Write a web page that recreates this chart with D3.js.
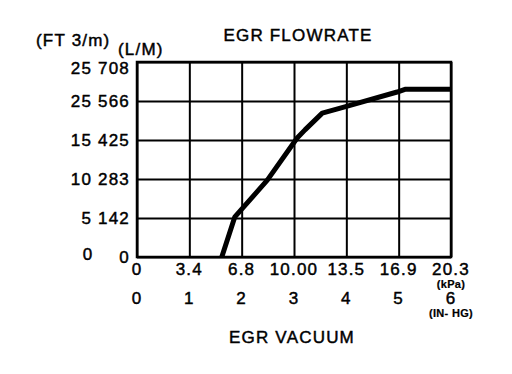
<!DOCTYPE html>
<html>
<head>
<meta charset="utf-8">
<script src="https://cdn.jsdelivr.net/npm/d3@7"></script>
<style>
  body { margin: 0; background: #fff; }
  text { font-family: "Liberation Sans", Arial, sans-serif; fill: #000; stroke: #000; stroke-width: 0.45px; }
  .lbl { font-size: 17px; letter-spacing: 1.2px; }
  .unit { font-size: 11px; font-weight: bold; letter-spacing: 0.3px; stroke-width: 0.2px; }
</style>
</head>
<body>
<script>
//chart values
var kpaTicks = ["0", "3.4", "6.8", "10.00", "13.5", "16.9", "20.3"];
var inhgTicks = ["0", "1", "2", "3", "4", "5", "6"];
var flowTicks = ["0", "5 142", "10 283", "15 425", "25 566", "25 708"];
var ftTicks = ["0"];
//curve in grid units: vacuum (in-Hg) and flow row index
var curveVacuum = [1.62, 1.87, 2.49, 3.06, 3.21, 3.54, 3.97, 4.97, 5.12, 6];
var curveFlow = [0, 1.03, 1.97, 3.05, 3.26, 3.69, 3.85, 4.23, 4.3, 4.3];

window.onload = drawChart();

function drawChart(){
    var width = 512,
        height = 374;

    var svg = d3.select("body")
        .append("svg")
        .attr("width", width)
        .attr("height", height);

    //plot frame
    var left = 137, right = 451, top = 62, bottom = 257;

    var x = d3.scaleLinear()
        .domain([0, inhgTicks.length - 1])
        .range([left, right]);

    var y = d3.scaleLinear()
        .domain([0, flowTicks.length - 1])
        .range([bottom, top]);

    //grid lines through the axes
    var xGrid = svg.append("g")
        .attr("transform", "translate(0," + bottom + ")")
        .call(d3.axisBottom(x)
            .tickValues(d3.range(inhgTicks.length))
            .tickSize(-(bottom - top))
            .tickFormat(""));

    var yGrid = svg.append("g")
        .attr("transform", "translate(" + left + ",0)")
        .call(d3.axisLeft(y)
            .tickValues(d3.range(flowTicks.length))
            .tickSize(-(right - left))
            .tickFormat(""));

    svg.selectAll(".domain").remove();
    svg.selectAll(".tick line")
        .attr("stroke", "#000")
        .attr("stroke-width", 2);

    //outer border
    svg.append("rect")
        .attr("x", left)
        .attr("y", top)
        .attr("width", right - left)
        .attr("height", bottom - top)
        .attr("fill", "none")
        .attr("stroke", "#000")
        .attr("stroke-width", 2.5);

    //flow curve
    var pts = curveVacuum.map(function(v, i){ return [v, curveFlow[i]]; });
    var line = d3.line()
        .x(function(d){ return x(d[0]); })
        .y(function(d){ return y(d[1]); });

    svg.append("path")
        .datum(pts)
        .attr("d", line)
        .attr("fill", "none")
        .attr("stroke", "#000")
        .attr("stroke-width", 5)
        .attr("stroke-linejoin", "round");

    //y labels (L/M)
    svg.selectAll(".ylab")
        .data(flowTicks)
        .enter()
        .append("text")
        .attr("class", "lbl ylab")
        .attr("x", 130)
        .attr("y", function(d, i){
            return y(i) + (i == flowTicks.length - 1 ? 6 : 0);
        })
        .attr("dy", "0.35em")
        .attr("text-anchor", "end")
        .text(function(d){ return d; });

    //y labels (FT 3/m)
    svg.selectAll(".ftlab")
        .data(ftTicks)
        .enter()
        .append("text")
        .attr("class", "lbl ftlab")
        .attr("x", 88)
        .attr("y", function(d, i){ return y(i) - 3; })
        .attr("dy", "0.35em")
        .attr("text-anchor", "middle")
        .text(function(d){ return d; });

    //x labels kPa and in-Hg
    svg.selectAll(".kpa")
        .data(kpaTicks)
        .enter()
        .append("text")
        .attr("class", "lbl kpa")
        .attr("x", function(d, i){ return x(i); })
        .attr("y", 275)
        .attr("text-anchor", "middle")
        .text(function(d){ return d; });

    svg.selectAll(".inhg")
        .data(inhgTicks)
        .enter()
        .append("text")
        .attr("class", "lbl inhg")
        .attr("x", function(d, i){ return x(i); })
        .attr("y", 304)
        .attr("text-anchor", "middle")
        .text(function(d){ return d; });

    //unit labels
    svg.append("text").attr("class", "unit")
        .attr("x", x(6)).attr("y", 288)
        .attr("text-anchor", "middle").text("(kPa)");
    svg.append("text").attr("class", "unit")
        .attr("x", x(6)).attr("y", 317)
        .attr("text-anchor", "middle").text("(IN- HG)");

    svg.append("text").attr("class", "lbl")
        .attr("x", 36).attr("y", 46).text("(FT 3/m)");
    svg.append("text").attr("class", "lbl")
        .attr("x", 118).attr("y", 55).text("(L/M)");

    //titles
    svg.append("text").attr("class", "lbl")
        .attr("x", 298).attr("y", 41)
        .attr("text-anchor", "middle").text("EGR FLOWRATE");
    svg.append("text").attr("class", "lbl")
        .attr("x", 292).attr("y", 343)
        .attr("text-anchor", "middle").text("EGR VACUUM");
};
</script>
</body>
</html>
